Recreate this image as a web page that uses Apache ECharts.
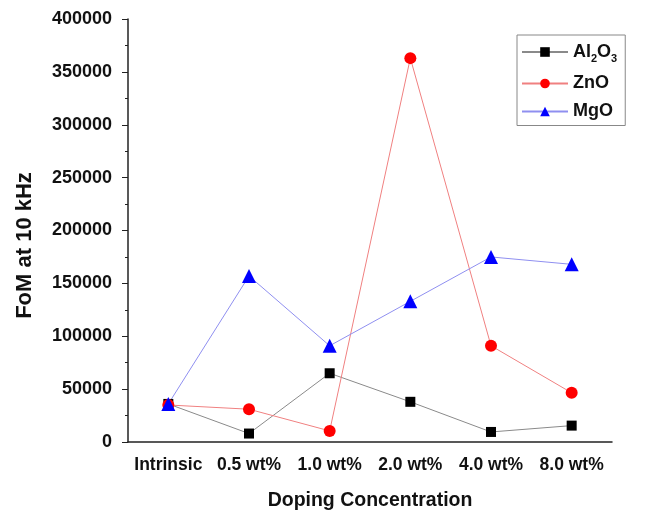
<!DOCTYPE html>
<html>
<head>
<meta charset="utf-8">
<script src="https://cdn.jsdelivr.net/npm/echarts@6/dist/echarts.min.js"></script>
<style>
  html, body {margin: 0; padding: 0; background: #fff;}
  #chart {width: 658px; height: 513px;}
</style>
</head>
<body>
<div id="chart"></div>
<script>
  const categories = ['Intrinsic', '0.5 wt%', '1.0 wt%', '2.0 wt%', '4.0 wt%', '8.0 wt%'];
  const al2o3 = [36000, 8000, 65000, 38000, 9500, 15500];
  const zno = [35000, 31000, 10500, 363000, 91000, 46500];
  const mgo = [36000, 157000, 91000, 133000, 175000, 168000];

  const font = '"Liberation Sans", Arial, sans-serif';
  const myChart = echarts.init(document.getElementById('chart'));

  myChart.setOption({
    animation: false,
    textStyle: {fontFamily: font},
    grid: {left: 128, right: 46, top: 19, bottom: 71, containLabel: false, outerBoundsMode: 'none'},
    legend: {
      orient: 'vertical',
      left: 517,
      top: 35,
      itemWidth: 46,
      itemHeight: 12,
      itemGap: 10,
      padding: [8, 8, 5, 4],
      borderColor: '#888',
      borderWidth: 1,
      textStyle: {
        color: '#111', fontSize: 18, fontWeight: 'bold', fontFamily: font,
        rich: {
          b: {fontSize: 18, fontWeight: 'bold', fontFamily: font, color: '#111'},
          s: {fontSize: 11, fontWeight: 'bold', fontFamily: font, color: '#111', padding: [14, 0, 0, 0]}
        }
      },
      formatter(name) {
        if (name === 'Al2O3') return '{b|Al}{s|2}{b|O}{s|3}';
        return name;
      },
      data: ['Al2O3', 'ZnO', 'MgO']
    },
    xAxis: {
      type: 'category',
      data: categories,
      boundaryGap: true,
      name: 'Doping Concentration',
      nameLocation: 'middle',
      nameGap: 49,
      nameTextStyle: {fontSize: 19.5, fontWeight: 'bold', color: '#111', fontFamily: font},
      axisLine: {lineStyle: {color: '#222', width: 1.5}},
      axisTick: {alignWithLabel: true, interval: 0, length: 6, lineStyle: {color: '#222'}},
      axisLabel: {interval: 0, hideOverlap: false, fontSize: 17.5, fontWeight: 'bold', color: '#111', margin: 14},
      splitLine: {show: false}
    },
    yAxis: {
      type: 'value',
      min: 0,
      max: 400000,
      interval: 50000,
      name: 'FoM at 10 kHz',
      nameLocation: 'middle',
      nameGap: 92,
      nameTextStyle: {fontSize: 22, fontWeight: 'bold', color: '#111', fontFamily: font, padding: [0, 30, 0, 0]},
      axisLine: {show: true, lineStyle: {color: '#222', width: 1.5}},
      axisTick: {show: true, length: 6, lineStyle: {color: '#222'}},
      minorTick: {show: true, splitNumber: 2, length: 3, lineStyle: {color: '#222'}},
      axisLabel: {
        fontSize: 18, fontWeight: 'bold', color: '#111', margin: 16,
        formatter: v => String(v)
      },
      splitLine: {show: false}
    },
    series: [
      {
        name: 'Al2O3', type: 'line', data: al2o3,
        symbol: 'rect', symbolSize: 10,
        itemStyle: {color: '#000'},
        lineStyle: {color: '#8a8a8a', width: 1}
      },
      {
        name: 'ZnO', type: 'line', data: zno,
        symbol: 'circle', symbolSize: 12,
        itemStyle: {color: '#ff0000'},
        lineStyle: {color: '#f08080', width: 1}
      },
      {
        name: 'MgO', type: 'line', data: mgo,
        symbol: 'triangle', symbolSize: 14,
        itemStyle: {color: '#0000ff'},
        lineStyle: {color: '#8f8ff0', width: 1}
      }
    ]
  });
</script>
</body>
</html>
